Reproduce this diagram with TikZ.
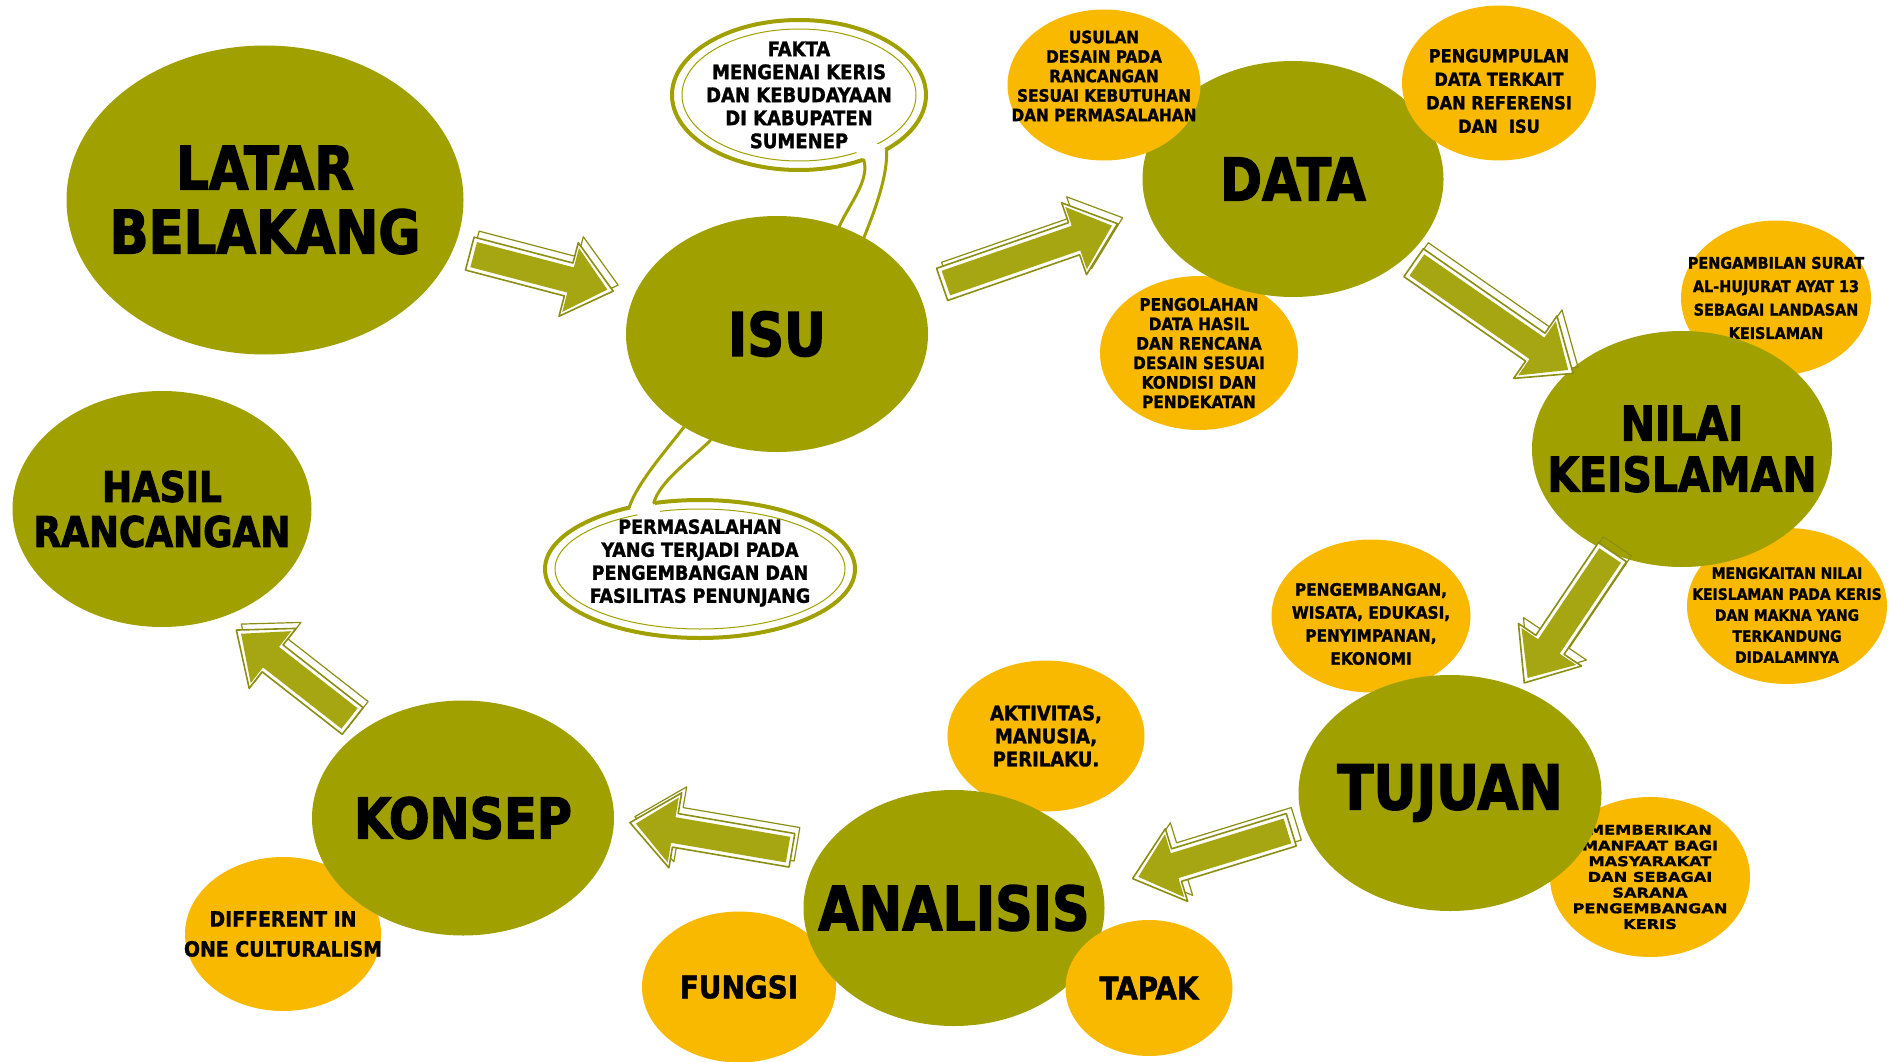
\documentclass[tikz,border=0pt]{standalone}
\usepackage{fontspec}
\setmainfont{DejaVu Sans Condensed}[BoldFeatures={FakeBold=1.4}]
\newfontfamily\bigfont{DejaVu Sans Condensed}[FakeStretch=0.95, BoldFeatures={FakeBold=2.2}]
\newfontfamily\widefont{DejaVu Sans}[FakeStretch=1.2, BoldFeatures={FakeBold=1.2}]
\usetikzlibrary{shapes.geometric,calc}

\pgfdeclarelayer{bg}
\pgfdeclarelayer{back}
\pgfsetlayers{bg,back,main}

\definecolor{olivec}{RGB}{160,161,0}
\definecolor{ambc}{RGB}{249,185,0}
\definecolor{rimc}{RGB}{140,142,20}
\definecolor{bodyc}{RGB}{165,166,18}

\tikzset{
  mainnode/.style={ellipse, fill=olivec, inner sep=0pt},
  sidenode/.style={ellipse, fill=ambc, inner sep=0pt},
  bubbletext/.style={ellipse, inner sep=0pt},
  bubbleline/.style={draw=olivec, line width=4pt},
  tailline/.style={draw=olivec, line width=3pt, line cap=round},
  dims/.style 2 args={minimum width=#1, minimum height=#2},
  bigtext/.style 2 args={align=center, font=\bigfont\bfseries\fontsize{#1}{#2}\selectfont},
  smalltext/.style 2 args={align=center, font=\bfseries\fontsize{#1}{#2}\selectfont},
  widetext/.style 2 args={align=center, font=\widefont\bfseries\fontsize{#1}{#2}\selectfont},
  arrowedge/.style={draw=rimc, line width=1.2pt, line join=round},
  arrowrim/.style={fill=white, draw=rimc, line width=1.6pt, line join=round},
  arrowbody/.style={fill=bodyc},
}

% arrow outline: style, start, tip, head base, half width, head half width
\newcommand\arrowshape[6]{%
  \path[#1] ($(#2)!#5!90:(#3)$) -- ($(#4)!#5!-90:(#2)$) -- ($(#4)!#6!-90:(#2)$) -- (#3)
    -- ($(#4)!#6!90:(#2)$) -- ($(#4)!#5!90:(#2)$) -- ($(#2)!#5!-90:(#3)$) -- cycle;}
% hand drawn block arrow
\newcommand\sketcharrow[2]{%
  \coordinate (aS) at (#1);
  \coordinate (aE) at (#2);
  \coordinate (aH) at ($(aE)!46pt!(aS)$);
  \coordinate (bS) at ($(aS)+(5,-6)$);
  \coordinate (bE) at ($(aE)+(5,-6)$);
  \coordinate (bH) at ($(aH)+(5,-6)$);
  \coordinate (cS) at ($(aS)!4pt!(aE)$);
  \coordinate (cE) at ($(aE)!6pt!(aS)$);
  \coordinate (cH) at ($(cE)!38pt!(cS)$);
  \arrowshape{arrowedge}{bS}{bE}{bH}{17pt}{38pt}
  \arrowshape{arrowrim}{aS}{aE}{aH}{17pt}{38pt}
  \arrowshape{arrowbody}{cS}{cE}{cH}{13pt}{33pt}}

\begin{document}
\begin{tikzpicture}[x=1pt, y=-1pt]
\begin{pgfonlayer}{bg}
  \fill[white] (0,0) rectangle (1899,1062);
\end{pgfonlayer}
\useasboundingbox (0,0) rectangle (1899,1062);

% orange circles under the main ones
\node[sidenode, dims={198pt}{154pt}, label={[smalltext={17}{19.5}]center:{PENGOLAHAN\\DATA HASIL\\DAN RENCANA\\DESAIN SESUAI\\KONDISI DAN\\PENDEKATAN}}] (olah) at (1199,353) {};
\node[sidenode, dims={190pt}{155pt}, label={[smalltext={16}{23.4}]center:{PENGAMBILAN SURAT\\AL-HUJURAT AYAT 13\\SEBAGAI LANDASAN\\KEISLAMAN}}] (ambil) at (1776,298) {};
\node[sidenode, dims={200pt}{156pt}, label={[smalltext={15.5}{21}, yshift=-9pt]center:{MENGKAITAN NILAI\\KEISLAMAN PADA KERIS\\DAN MAKNA YANG\\TERKANDUNG\\DIDALAMNYA}}] (kait) at (1787,606) {};
\node[sidenode, dims={199pt}{153pt}, label={[smalltext={17}{23}, yshift=-8pt]center:{PENGEMBANGAN,\\WISATA, EDUKASI,\\PENYIMPANAN,\\EKONOMI}}] (kembang) at (1371,616) {};
\node[sidenode, dims={200pt}{160pt}, label={[widetext={13.5}{15.7}]center:{MEMBERIKAN\\MANFAAT BAGI\\MASYARAKAT\\DAN SEBAGAI\\SARANA\\PENGEMBANGAN\\KERIS}}] (manfaat) at (1650,877) {};
\node[sidenode, dims={197pt}{151pt}, label={[smalltext={20}{23}]center:{AKTIVITAS,\\MANUSIA,\\PERILAKU.}}] (aktiv) at (1046,736) {};
\node[sidenode, dims={196pt}{154pt}, label={[smalltext={21}{30}]center:{DIFFERENT IN\\ONE CULTURALISM}}] (beda) at (283,934) {};
\node[sidenode, dims={194pt}{151pt}, label={[smalltext={31}{34}]center:FUNGSI}] (fungsi) at (739,987) {};

% speech bubbles
\node[bubbletext, dims={254pt}{150pt}, label={[smalltext={20}{23}]center:{FAKTA\\MENGENAI KERIS\\DAN KEBUDAYAAN\\DI KABUPATEN\\SUMENEP}}] (fakta) at (799,95) {};
\node[bubbletext, dims={310pt}{138pt}, label={[smalltext={19.5}{23}, yshift=6pt]center:{PERMASALAHAN\\YANG TERJADI PADA\\PENGEMBANGAN DAN\\FASILITAS PENUNJANG}}] (perm) at (700,569) {};

% main steps
\node[mainnode, dims={397pt}{309pt}, label={[bigtext={60}{64}]center:{LATAR\\BELAKANG}}] (latar) at (265,200) {};
\node[mainnode, dims={302pt}{236pt}, label={[bigtext={60}{70}]center:ISU}] (isu) at (777,334) {};
\node[mainnode, dims={301pt}{236pt}, label={[bigtext={59}{70}]center:DATA}] (data) at (1293,179) {};
\node[mainnode, dims={300pt}{236pt}, label={[bigtext={48}{51}]center:{NILAI\\KEISLAMAN}}] (nilai) at (1682,449) {};
\node[mainnode, dims={303pt}{236pt}, label={[bigtext={62}{66}]center:TUJUAN}] (tujuan) at (1450,793) {};
\node[mainnode, dims={301pt}{236pt}, label={[bigtext={61}{66}]center:ANALISIS}] (analisis) at (954,908) {};
\node[mainnode, dims={302pt}{235pt}, label={[bigtext={56}{64}]center:KONSEP}] (konsep) at (463,818) {};
\node[mainnode, dims={299pt}{236pt}, label={[bigtext={42}{45}]center:{HASIL\\RANCANGAN}}] (hasil) at (162,509) {};

% orange circles on top
\node[sidenode, dims={193pt}{151pt}, label={[smalltext={17}{19.5}, yshift=9pt]center:{USULAN\\DESAIN PADA\\RANCANGAN\\SESUAI KEBUTUHAN\\DAN PERMASALAHAN}}] (usulan) at (1104,85) {};
\node[sidenode, dims={194pt}{155pt}, label={[smalltext={18}{23.5}, yshift=-8pt]center:{PENGUMPULAN\\DATA TERKAIT\\DAN REFERENSI\\DAN~~ISU}}] (kumpul) at (1499,83) {};
\node[sidenode, dims={167pt}{136pt}, label={[smalltext={31}{34}]center:TAPAK}] (tapak) at (1149,988) {};

% arrows between the steps
\sketcharrow{$(latar)!0.4!(isu)$}{$(latar)!0.68!(isu)$}
\sketcharrow{$(isu)!0.32!(data)$}{$(isu)!0.66!(data)+(0,-8)$}
\sketcharrow{$(data)!0.31!(nilai)$}{$(data)!0.72!(nilai)$}
\sketcharrow{$(nilai)!0.3!(tujuan)$}{$(nilai)!0.68!(tujuan)$}
\sketcharrow{$(tujuan)!0.32!(analisis)$}{$(tujuan)!0.64!(analisis)+(0,12)$}
\sketcharrow{$(analisis)!0.33!(konsep)+(0,-28)$}{$(analisis)!0.66!(konsep)+(0,-26)$}
\sketcharrow{$(konsep)!0.34!(hasil)+(-8,8)$}{$(konsep)!0.66!(hasil)+(-28,16)$}

% bubble outlines and tails
\begin{pgfonlayer}{back}
  \filldraw[fill=white, bubbleline] (fakta.center) ellipse [x radius=127, y radius=75];
  \draw[olivec, line width=1pt] (fakta.center) ellipse [x radius=117, y radius=66];
  \fill[white] ($(fakta.center)!0.8!(fakta.-45)$) -- (fakta.-45) .. controls +(6,20) and +(12,-25) .. (isu.60)
    -- (isu.48) .. controls +(10,-25) and +(2,25) .. (fakta.-32) -- ($(fakta.center)!0.8!(fakta.-32)$) -- cycle;
  \draw[tailline] (fakta.-45) .. controls +(6,20) and +(12,-25) .. (isu.60);
  \draw[tailline] (fakta.-32) .. controls +(2,25) and +(10,-25) .. (isu.48);

  \filldraw[fill=white, bubbleline] (perm.center) ellipse [x radius=155, y radius=69];
  \draw[olivec, line width=1pt] (perm.center) ellipse [x radius=145, y radius=60];
  \fill[white] (isu.225) .. controls +(-15,20) and +(8,-25) .. (perm.139) -- ($(perm.center)!0.8!(perm.139)$)
    -- ($(perm.center)!0.8!(perm.125)$) -- (perm.125) .. controls +(6,-22) and +(-18,18) .. (isu.238) -- cycle;
  \draw[tailline] (isu.225) .. controls +(-15,20) and +(8,-25) .. (perm.139);
  \draw[tailline] (isu.238) .. controls +(-18,18) and +(6,-22) .. (perm.125);
\end{pgfonlayer}
\end{tikzpicture}
\end{document}
